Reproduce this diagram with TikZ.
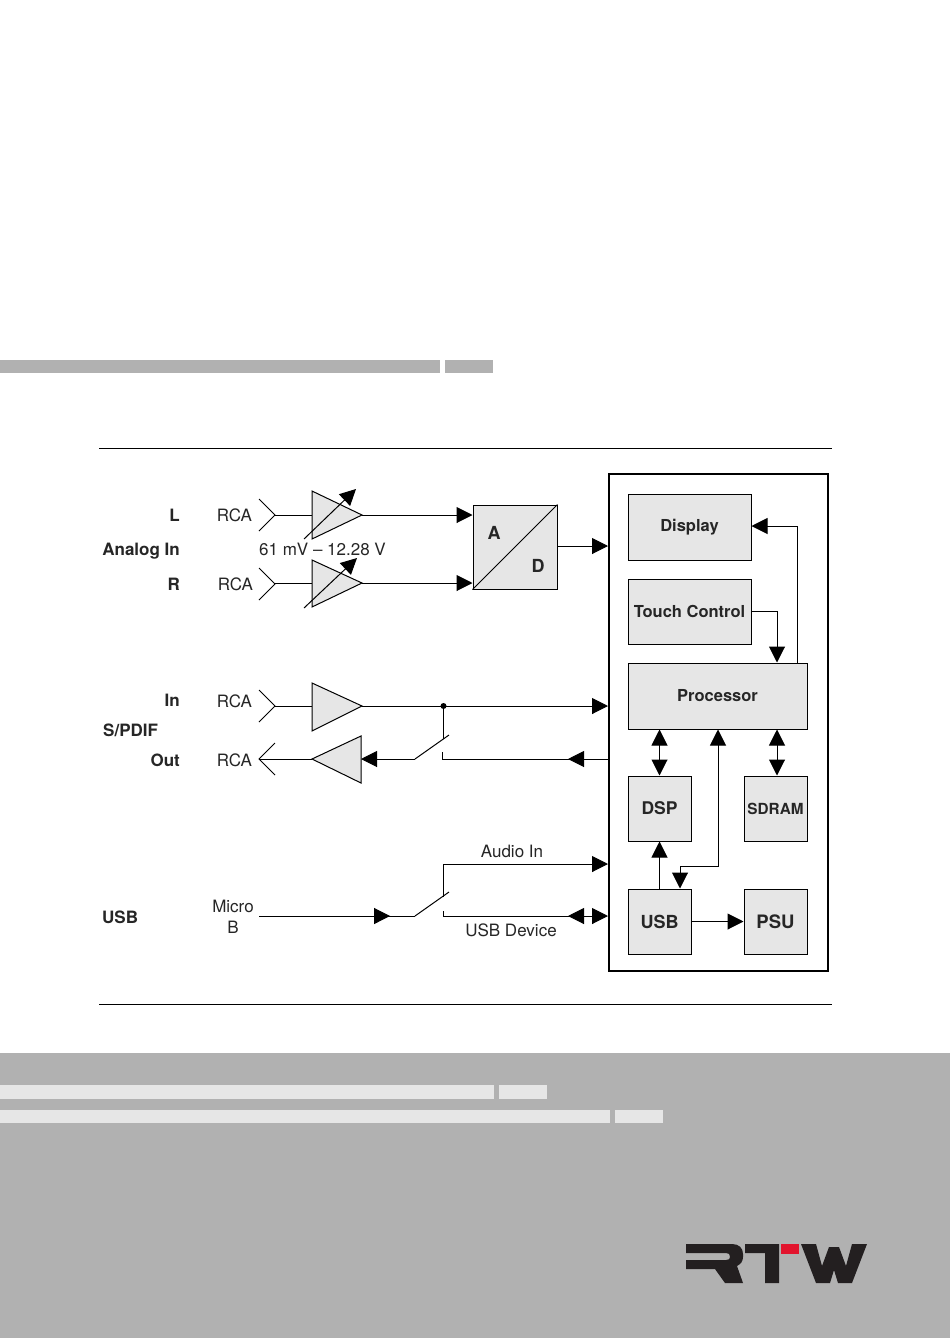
\documentclass[tikz,border=0pt]{standalone}
\usepackage{fontspec}
\setmainfont{TeX Gyre Heros}
\usetikzlibrary{arrows.meta,decorations.markings}
\definecolor{boxgray}{HTML}{E6E6E6}
\definecolor{bandgray}{HTML}{B1B1B1}
\definecolor{logoblack}{HTML}{231F20}
\definecolor{logored}{HTML}{E2142D}
\definecolor{textgray}{HTML}{262626}
\tikzset{
  tip/.tip={Triangle[length=16pt,width=16pt]},
  wire/.style={line width=1pt,black},
  block/.style={draw,line width=1pt,fill=boxgray,inner sep=0pt,text=textgray,font=\fontsize{16.5}{18}\selectfont\bfseries},
  blocklabel/.style={inner sep=0pt,text=textgray,font=\fontsize{18}{20}\selectfont\bfseries},
  amp/.style={draw,line width=1pt,fill=boxgray},
  title/.style={inner sep=0pt,anchor=east,text=textgray,font=\fontsize{17}{19}\selectfont\bfseries},
  plain/.style={inner sep=0pt,text=textgray,font=\fontsize{17}{19}\selectfont},
  midtip/.style={postaction={decorate,decoration={markings,mark=at position #1 with {\arrow{tip}}}}}
}
\begin{document}
\begin{tikzpicture}[x=1pt,y=-1pt]
\useasboundingbox (0,0) rectangle (950,1339);
\fill[white] (0,0) rectangle (950,1339);
% bands
\fill[bandgray] (0,360) rectangle (440,373);
\fill[bandgray] (445,360) rectangle (493,373);
\fill[bandgray] (0,1053) rectangle (950,1338);
\fill[boxgray] (0,1085) rectangle (494,1099);
\fill[boxgray] (499,1085) rectangle (547,1099);
\fill[boxgray] (0,1110) rectangle (610,1123);
\fill[boxgray] (615,1110) rectangle (663,1123);
\draw[line width=1pt] (99,448) -- (832,448);
\draw[line width=1pt] (99,1004) -- (832,1004);
% labels left
\node[title] (labL) at (180,515) {L};
\node[title] (labAnalog) at (180,551) {Analog In};
\node[title] (labR) at (180,584) {R};
\node[title] (labIn) at (180,700) {In};
\node[title,anchor=west] (labSpdif) at (103,730) {S/PDIF};
\node[title] (labOut) at (180,760) {Out};
\node[title,anchor=west] (labUsb) at (102,917) {USB};
\node[plain] (rcaL) at (234.5,515) {RCA};
\node[plain] (rcaR) at (235.5,584) {RCA};
\node[plain] (rcaIn) at (234.5,701) {RCA};
\node[plain] (rcaOut) at (234.5,760) {RCA};
\node[plain,align=center] (micro) at (233,917) {Micro\\[2pt]B};
\node[plain] (range) at (322.5,549) {61 mV -- 12.28 V};
\node[plain] (audioin) at (512,851) {Audio In};
\node[plain] (usbdev) at (511,930) {USB Device};
% main frame
\draw[line width=2.2pt] (609,474) rectangle (828,971);
\node[block,minimum width=123pt,minimum height=66pt] (display) at (689.5,527) {\raisebox{-2pt}{Display}};
\node[block,minimum width=123pt,minimum height=65pt] (touch) at (689.5,611.5) {\raisebox{-2pt}{Touch Control}};
\node[block,minimum width=179pt,minimum height=66pt] (proc) at (717.5,696) {\raisebox{-2pt}{Processor}};
\node[block,minimum width=63pt,minimum height=65pt,font=\fontsize{17.5}{19}\selectfont\bfseries] (dsp) at (659.5,808.5) {\raisebox{-1pt}{DSP}};
\node[block,minimum width=63pt,minimum height=65pt,font=\fontsize{15.3}{17}\selectfont\bfseries] (sdram) at (775.5,808.5) {\raisebox{-1pt}{SDRAM}};
\node[block,minimum width=63pt,minimum height=65pt,font=\fontsize{18}{20}\selectfont\bfseries] (usb) at (659.5,921.5) {\raisebox{-1pt}{USB}};
\node[block,minimum width=63pt,minimum height=65pt,font=\fontsize{18.5}{20}\selectfont\bfseries] (psu) at (775.5,921.5) {\raisebox{-1pt}{PSU}};
\node[block,minimum width=84pt,minimum height=84pt] (ad) at (515,547) {};
\draw[line width=1pt] (ad.south west) -- (ad.north east);
\node[blocklabel] (adA) at (494,533) {A};
\node[blocklabel] (adD) at (538,566) {D};
% frame edge points
\coordinate (frameAD) at (608,546);
\coordinate (frameIn) at (608,706);
\coordinate (frameOut) at (609,759);
\coordinate (frameAudio) at (608,864);
\coordinate (frameDev) at (608,916);
% amplifiers
\coordinate (ampLin) at (312,515); \coordinate (ampLout) at (362,515);
\coordinate (ampRin) at (312,583); \coordinate (ampRout) at (362,583);
\coordinate (ampIin) at (312,706); \coordinate (ampIout) at (362,706);
\coordinate (ampOin) at (361,759); \coordinate (ampOout) at (312,759);
\draw[wire] (259,499) -- (275,515) -- (259,531);
\draw[wire] (259,568) -- (275,584) -- (259,600);
\draw[wire] (259,690) -- (275,706) -- (259,722);
\draw[wire] (275,743) -- (259,759) -- (275,775);
\draw[wire] (275,515) -- (ampLin);
\draw[wire] (275,583) -- (ampRin);
\draw[wire] (275,706) -- (ampIin);
\draw[wire] (259,759) -- (ampOout);
\draw[amp] (312,491) -- (ampLout) -- (312,539) -- cycle;
\draw[amp] (312,560) -- (ampRout) -- (312,607) -- cycle;
\draw[amp] (312,683) -- (ampIout) -- (312,731) -- cycle;
\draw[amp] (361,736) -- (ampOout) -- (361,783) -- cycle;
\draw[wire,-tip] (304,539) -- (356,489);
\draw[wire,-tip] (304,608) -- (357,558);
% signal lines
\draw[wire,-tip] (ampLout) -- (ad.west |- ampLout);
\draw[wire,-tip] (ampRout) -- (ad.west |- ampRout);
\draw[wire,-tip] (ad.east |- frameAD) -- (frameAD);
\coordinate (junction) at (443.5,706);
\draw[wire,-tip] (ampIout) -- (frameIn);
\fill (junction) circle (3pt);
% spdif switch
\coordinate (swO) at (415,759);
\coordinate (swOtop) at (449,735);
\coordinate (swOfix) at (442,752);
\coordinate (outtip) at (568,759);
\coordinate (outmid) at (584,759);
\draw[wire] (junction) -- (443.5,739);
\draw[wire] (swO) -- (swOtop);
\draw[wire,-tip] (swO) -- (ampOin);
\draw[wire] (frameOut) -- (442,759) -- (swOfix);
\draw[wire,tip-] (outtip) -- (outmid);
% usb switch
\coordinate (swU) at (415,916);
\coordinate (swUtop) at (449,892);
\coordinate (devtip) at (568,916);
\coordinate (devmid) at (584,916);
\draw[wire,midtip=0.84] (259,916) -- (swU);
\draw[wire] (swU) -- (swUtop);
\draw[wire,-tip] (443,897) -- (443,864) -- (frameAudio);
\draw[wire,-tip] (443,911) -- (443,916) -- (frameDev);
\draw[wire,tip-] (devtip) -- (devmid);
% inside the frame
\draw[wire,-tip] (proc.north -| 797,0) -- (797,526) -- (display.east |- 797,526);
\draw[wire,-tip] (touch.east) -- (777,611.5) -- (proc.north -| 777,0);
\draw[wire,tip-tip] (dsp.north) -- (proc.south -| dsp.north);
\draw[wire,tip-tip] (sdram.north -| 777,0) -- (proc.south -| 777,0);
\draw[wire,-tip] (usb.north) -- (dsp.south);
\draw[wire,-tip] (680,866) -- (718,866) -- (proc.south -| 718,0);
\draw[wire,-tip] (680,866) -- (usb.north -| 680,0);
\draw[wire,-tip] (usb.east) -- (psu.west);
% logo
\fill[logoblack] (686,1244) -- (732,1244) .. controls (739,1244) and (743,1248) .. (743,1254) -- (743,1257) .. controls (743,1261) and (741,1264) .. (737,1266) -- (743,1283) -- (725,1283) -- (715,1269) -- (686,1269) -- (686,1260) -- (726,1260) .. controls (729,1260) and (730,1259) .. (730,1257) .. controls (730,1254) and (729,1253) .. (726,1253) -- (686,1253) -- cycle;
\fill[logoblack] (745,1244) -- (779,1244) -- (779,1283) -- (765,1283) -- (765,1253) -- (745,1253) -- cycle;
\fill[logored] (781,1244) rectangle (799,1254);
\fill[logoblack] (801,1244) -- (816,1244) -- (822,1266) -- (829,1247) -- (839,1247) -- (846,1266) -- (852,1244) -- (867,1244) -- (852,1283) -- (838,1283) -- (834,1270) -- (830,1283) -- (816,1283) -- cycle;
\end{tikzpicture}
\end{document}
